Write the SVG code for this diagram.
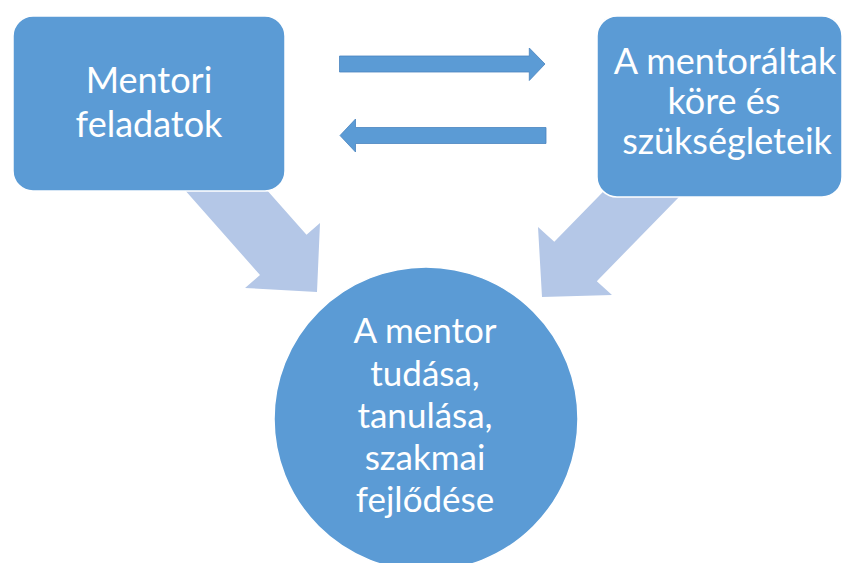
<svg xmlns="http://www.w3.org/2000/svg" width="843" height="563" viewBox="0 0 843 563">
  <style>
    .node { fill: #5b9bd5; stroke: #ffffff; stroke-width: 1.5; }
    .flow { fill: #b4c7e7; stroke: none; }
    .link { fill: #5b9bd5; stroke: #4a84bf; stroke-width: 0.8; }
    .label { font-family: Lato, "Open Sans", "Liberation Sans", sans-serif; fill: #ffffff; text-anchor: middle; }
  </style>
  <rect width="843" height="563" fill="#ffffff"/>

  <!-- connectors: broad arrows into the circle, thin arrows between the boxes -->
  <g id="connectors">
    <polygon class="flow" points="176,180 258,180 306.5,234.7 320,223 317,292 245,288 260,275"/>
    <polygon class="flow" points="606.8,188 687.8,188 596.8,281.2 612,295 542,297 538,227 554.3,241.8"/>
    <polygon class="link" points="339.5,56 529.3,56 529.3,48 545,64 529.3,80.5 529.3,72 339.5,72"/>
    <polygon class="link" points="546,127.5 355.5,127.5 355.5,119 340,135.5 355.5,152 355.5,143.5 546,143.5"/>
  </g>

  <g id="mentori-feladatok">
    <rect class="node" x="13" y="16" width="272" height="175" rx="20" ry="20"/>
    <text class="label" font-size="36" x="149" y="93">Mentori</text>
    <text class="label" font-size="36" x="149" y="137">feladatok</text>
  </g>

  <g id="mentoraltak">
    <rect class="node" x="597" y="16" width="245" height="181" rx="20" ry="20"/>
    <text class="label" font-size="36" x="725" y="74">A mentoráltak</text>
    <text class="label" font-size="36" x="724" y="114">köre és</text>
    <text class="label" font-size="36" x="727" y="154">szükségleteik</text>
  </g>

  <g id="mentor-fejlodes">
    <circle class="node" cx="426" cy="419" r="152"/>
    <text class="label" font-size="35" x="425" y="343">A mentor</text>
    <text class="label" font-size="35" x="425" y="386">tudása,</text>
    <text class="label" font-size="35" x="425" y="428">tanulása,</text>
    <text class="label" font-size="35" x="425" y="470">szakmai</text>
    <text class="label" font-size="35" x="425" y="512">fejlődése</text>
  </g>
</svg>
